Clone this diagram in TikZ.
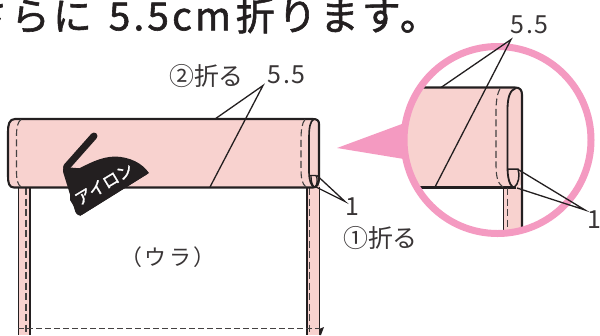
\documentclass[tikz,border=0pt]{standalone}
\usepackage{fontspec}
\setmainfont{Noto Sans CJK JP}
\newfontfamily\headfont[FakeBold=1.5]{Noto Sans CJK JP}
\newfontfamily\headspaced[FakeBold=1.5,LetterSpace=8]{Noto Sans CJK JP}
\definecolor{bandpink}{HTML}{F8D2CF}
\definecolor{ringpink}{HTML}{F49AC1}
\definecolor{ink}{HTML}{231F20}
\tikzset{
  x=1bp,y=-1bp,
  outline/.style={draw=ink,line width=2.1bp,line join=round},
  thinout/.style={draw=ink,line width=1.8bp},
  stitch/.style={draw=ink!85,line width=1.1bp,dash pattern=on 7bp off 3.5bp},
  leader/.style={draw=ink,line width=1.3bp},
  lab/.style={text=ink!90,inner sep=0pt,font=\fontsize{25}{27}\selectfont},
}
\newcommand{\spaced}[1]{{\addfontfeature{LetterSpace=6}#1}}
\begin{document}
\begin{tikzpicture}
\useasboundingbox (0,0) rectangle (600,335);
% heading
\node[anchor=east,inner sep=0pt,text=ink,font=\fontsize{39}{42}\headspaced] (head) at (439,15.5) {さらに\hspace{17pt}5.5cm\hspace{5pt}折ります。};
% pointer
\path[fill=ringpink] (337,148) -- (410,121) -- (410,160) -- cycle;
% legs main
\path[fill=bandpink] (18,185) rectangle (30,335);
\path[fill=bandpink] (307,185) rectangle (319.5,335);
\draw[thinout] (18.5,187) -- (18.5,335) (30,187) -- (30,335);
\draw[thinout] (307,187) -- (307,335) (319.5,187) -- (319.5,335);
\draw[stitch] (26,188) -- (26,335);
\draw[stitch] (309.5,188) -- (309.5,335);
% main band
\path[fill=bandpink,outline] (313,119) -- (15,119) .. controls (9,119) and (8,125) .. (8,132) -- (8,176) .. controls (8,183) and (9,187.5) .. (14,187.5) -- (313,187.5) .. controls (317,187.5) and (319,184) .. (319,178) -- (319,124) .. controls (319,120.5) and (317,119) .. (313,119) -- cycle;
\draw[outline,line width=1.6bp] (314,119) .. controls (310,121) and (309,128) .. (309,138) -- (309,172) .. controls (309,180) and (311,186) .. (314,187);
\draw[stitch] (21,119.5) .. controls (17.5,122) and (16.5,128) .. (16.5,136) -- (16.5,172) .. controls (16.5,180) and (18,185) .. (21,187);
\draw[stitch] (305,119.5) .. controls (302,123) and (301,130) .. (301,140) -- (301,168) .. controls (301,178) and (302,184) .. (306,187);
% small flap
\draw[thinout,line width=1.3bp] (310,175.5) -- (316,175.5) .. controls (318,179) and (317.5,185) .. (314.5,187.5);
\draw[line width=1.3bp,draw=ink] (311,176) .. controls (311,181) and (312,185) .. (314.5,187.5);
% bottom stitch
\draw[stitch,dash pattern=on 6bp off 3bp] (18,328.7) -- (320,328.7);
\path[fill=ink] (319,329) -- (324,327) -- (321,335) -- (319.5,335) -- cycle;
% iron
\draw[ink,line width=7bp,line cap=round] (94,136) -- (66.5,167);
\path[fill=ink,rounded corners=2.5bp] (64,167) -- (62.5,170) -- (76,214) -- (80,216) -- (149,173) -- (100,170) -- cycle;
\path[fill=ink] (70,173) .. controls (90,163) and (100,157) .. (115,156.5) .. controls (130,157) and (142,163) .. (149,173) -- (80,216) -- (70,200) -- cycle;
\node[rotate=31,text=white,inner sep=0pt,font=\fontsize{16.5}{18}\headfont] (iron) at (104,184) {アイロン};
% detail
\path[fill=white] (497.5,140) circle (94);
\begin{scope}
\clip (497.5,140) circle (94);
\path[fill=bandpink] (503,187) rectangle (522,240);
\path[fill=bandpink] (400,87.5) -- (515,87.5) .. controls (520,87.5) and (522,90) .. (522,95) -- (522,178) .. controls (522,184) and (520,187.5) .. (516,187.5) -- (400,187.5) -- cycle;
\draw[outline] (400,87.5) -- (515,87.5) .. controls (520,87.5) and (522,90) .. (522,95) -- (522,240);
\draw[outline] (400,187.5) -- (516,187.5);
\draw[thinout] (503.5,187) -- (503.5,240);
\draw[stitch] (507.5,188) -- (507.5,240);
\draw[outline,line width=1.8bp] (516,88) .. controls (510,90) and (507.5,97) .. (507.5,110) -- (507.5,166) .. controls (507.5,177) and (509,184) .. (513,187.5);
\draw[stitch] (500,88.5) .. controls (497,94) and (496,102) .. (496,112) -- (496,165) .. controls (496,177) and (498,184) .. (503,187);
\draw[thinout,line width=1.5bp] (508,169) -- (518,169) .. controls (520,175) and (519,184) .. (514,187.5);
\end{scope}
\draw[ringpink,line width=7bp] (497.5,140) circle (93.5);
% labels and leaders
\node[lab] (oreb) at (206.5,76) {②折る};
\node[lab] (lb55) at (286.5,75) {\spaced{5.5}};
\node[lab] (lbone) at (352,207) {1};
\node[lab] (orea) at (380.5,238) {①折る};
\node[lab] (rb55) at (529.5,25) {\spaced{5.5}};
\node[lab] (rbone) at (594.5,220) {1};
\node[lab,font=\fontsize{22}{24}\selectfont] (ura) at (168,257) {\addfontfeature{LetterSpace=10}（ウラ）};
\coordinate (p1) at (263,85.5);
\coordinate (p1a) at (215,119);
\coordinate (p1b) at (210,187);
\draw[leader] (p1a) -- (p1) -- (p1b);
\coordinate (p2) at (345,201.5);
\coordinate (p2a) at (317,175.5);
\coordinate (p2b) at (316,187);
\draw[leader] (p2a) -- (p2) -- (p2b);
\coordinate (p3) at (511,39.5);
\coordinate (p3a) at (441,87.5);
\coordinate (p3b) at (435,187);
\draw[leader] (p3a) -- (p3) -- (p3b);
\coordinate (p4) at (585,210);
\coordinate (p4a) at (519,170);
\coordinate (p4b) at (517,188);
\draw[leader] (p4a) -- (p4) -- (p4b);
\end{tikzpicture}
\end{document}
